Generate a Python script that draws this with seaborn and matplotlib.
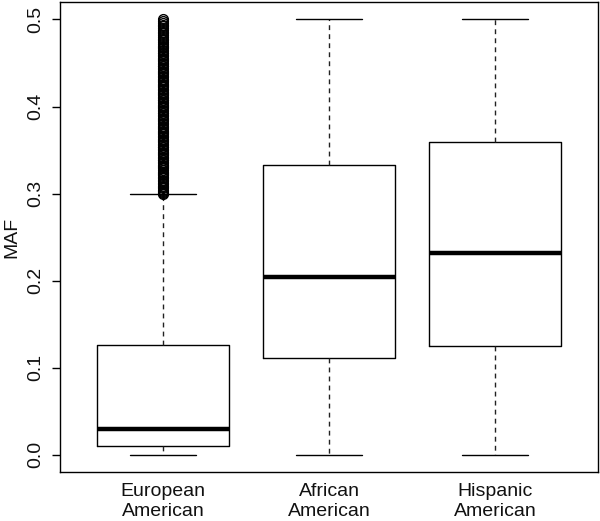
import matplotlib
matplotlib.use("Agg")
import matplotlib.pyplot as plt
import seaborn as sns

groups = ["European\nAmerican", "African\nAmerican", "Hispanic\nAmerican"]
q1 = [0.010, 0.111, 0.125]
med = [0.030, 0.204, 0.232]
q3 = [0.126, 0.333, 0.359]
whislo = [0.0, 0.0, 0.0]
whishi = [0.300, 0.500, 0.500]
eu_outliers = [0.300, 0.301, 0.302, 0.303, 0.304, 0.306, 0.307, 0.309, 0.311,
               0.312, 0.314, 0.316, 0.318, 0.319, 0.321, 0.322, 0.324, 0.325,
               0.327, 0.329, 0.330, 0.332, 0.333, 0.335, 0.336, 0.338, 0.339,
               0.341, 0.342, 0.344, 0.345, 0.347, 0.348, 0.350, 0.351, 0.353,
               0.354, 0.356, 0.357, 0.359, 0.360, 0.362, 0.363, 0.365, 0.366,
               0.368, 0.369, 0.371, 0.372, 0.374, 0.375, 0.377, 0.378, 0.380,
               0.381, 0.383, 0.384, 0.386, 0.387, 0.389, 0.390, 0.392, 0.393,
               0.395, 0.396, 0.398, 0.399, 0.401, 0.402, 0.404, 0.405, 0.407,
               0.408, 0.410, 0.411, 0.413, 0.414, 0.416, 0.417, 0.419, 0.420,
               0.422, 0.423, 0.425, 0.426, 0.428, 0.429, 0.431, 0.432, 0.434,
               0.435, 0.437, 0.438, 0.440, 0.441, 0.443, 0.444, 0.446, 0.447,
               0.449, 0.450, 0.452, 0.453, 0.455, 0.456, 0.458, 0.459, 0.461,
               0.462, 0.464, 0.465, 0.467, 0.468, 0.470, 0.472, 0.474, 0.476,
               0.478, 0.480, 0.482, 0.484, 0.486, 0.488, 0.490, 0.492, 0.494,
               0.496, 0.498, 0.500]
fliers = [eu_outliers, [], []]
yticks = [0.0, 0.1, 0.2, 0.3, 0.4, 0.5]
ytick_labels = ["0.0", "0.1", "0.2", "0.3", "0.4", "0.5"]

sns.set_theme(style="ticks")
plt.rcParams['font.family'] = ['Liberation Sans', 'DejaVu Sans']
plt.rcParams['text.color'] = 'black'
plt.rcParams['axes.labelcolor'] = 'black'
plt.rcParams['xtick.color'] = 'black'
plt.rcParams['ytick.color'] = 'black'

fig = plt.figure(figsize=(6, 5.21), dpi=100)
ax = fig.add_axes([0.1, 0.094, 0.8967, 0.902])

stats = [dict(label=g, q1=a, med=m, q3=b, whislo=lo, whishi=hi, fliers=f)
         for g, a, m, b, lo, hi, f in zip(groups, q1, med, q3, whislo, whishi, fliers)]

ax.bxp(stats, positions=[1, 2, 3], widths=0.8, capwidths=0.4, showfliers=True,
       boxprops=dict(color='black', linewidth=1),
       medianprops=dict(color='black', linewidth=3.2, solid_capstyle='butt'),
       whiskerprops=dict(color='#222222', linewidth=1, linestyle=(0, (3.5, 3))),
       capprops=dict(color='black', linewidth=1),
       flierprops=dict(marker='o', markerfacecolor='none', markeredgecolor='black',
                       markersize=7, markeredgewidth=1.0))

ax.set_xlim(0.38, 3.62)
ax.set_ylim(-0.02, 0.52)
ax.set_yticks(yticks)
ax.set_yticklabels(ytick_labels, rotation=90, va='center', fontsize=14)
ax.tick_params(axis='y', length=6, width=1, color='black', pad=5, labelcolor='#111111')
ax.tick_params(axis='x', length=0, pad=8, labelsize=14, labelcolor='#111111')
ax.set_ylabel("MAF", fontsize=14, labelpad=5, color='#111111')
for s in ax.spines.values():
    s.set_visible(True)
    s.set_color('black')
    s.set_linewidth(1)

fig.savefig("out.png", dpi=100)
